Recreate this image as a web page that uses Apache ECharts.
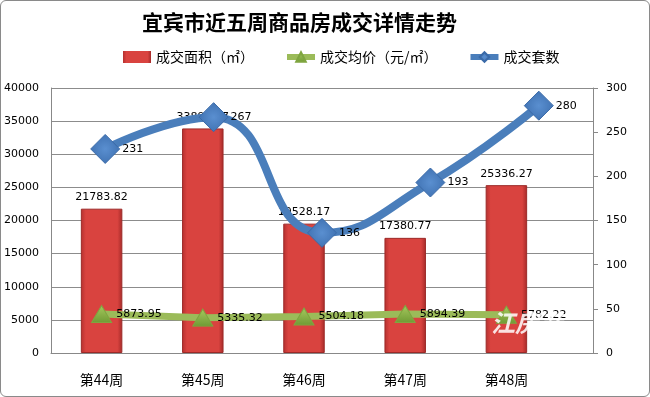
<!DOCTYPE html>
<html>
<head>
<meta charset="utf-8">
<script src="https://cdn.jsdelivr.net/npm/echarts@6/dist/echarts.min.js"></script>
<style>
  html, body { margin: 0; padding: 0; background: #fff; }
  #chart { width: 650px; height: 397px; box-sizing: border-box; border: 1px solid #8a8a8a; border-radius: 6px; }
</style>
</head>
<body>
<div id="chart"></div>
<script>
// 数据
const weeks = ['第44周', '第45周', '第46周', '第47周', '第48周'];
const areaData = [21783.82, 33897.07, 19528.17, 17380.77, 25336.27];
const priceData = [5873.95, 5335.32, 5504.18, 5894.39, 5782.22];
const countData = [231, 267, 136, 193, 280];

const numFont = 'DejaVu Sans';
const cjkFont = '"Noto Sans CJK SC", sans-serif';

const chart = echarts.init(document.getElementById('chart'));

const option = {
  animation: false,
  title: {
    text: '宜宾市近五周商品房成交详情走势',
    left: 136,
    top: 6,
    textStyle: { fontFamily: cjkFont, fontSize: 21, fontWeight: 'bold', color: '#000' },
  },
  legend: {
    left: 117,
    top: 44,
    itemGap: 30,
    itemWidth: 28,
    itemHeight: 12,
    textStyle: { fontFamily: cjkFont, fontSize: 14, color: '#000' },
    data: [
      { name: '成交面积（㎡）', icon: 'rect', itemStyle: { borderWidth: 0 } },
      { name: '成交均价（元/㎡）', lineStyle: { width: 6 } },
      { name: '成交套数', lineStyle: { width: 6 } },
    ],
  },
  // 主坐标区（柱形 + 均价），次坐标区（套数）宽度不同
  grid: [
    { left: 50, right: 92, top: 87, bottom: 43 },
    { left: 50, right: 56, top: 87, bottom: 43 },
  ],
  xAxis: [
    {
      type: 'category',
      gridIndex: 0,
      data: weeks,
      axisLine: { show: false },
      axisTick: { show: false },
      axisLabel: { fontFamily: cjkFont, fontSize: 14, color: '#000', margin: 20 },
    },
    {
      type: 'category',
      gridIndex: 1,
      data: weeks,
      axisLine: { lineStyle: { color: '#888' } },
      axisTick: { show: false },
      axisLabel: { show: false },
    },
  ],
  yAxis: [
    {
      type: 'value',
      gridIndex: 0,
      min: 0,
      max: 40000,
      interval: 5000,
      axisLine: { show: true, lineStyle: { color: '#888' } },
      axisTick: { show: false },
      splitLine: { show: false },
      axisLabel: { fontFamily: numFont, fontSize: 11, color: '#000', margin: 12, formatter: (v) => String(v) },
    },
    {
      type: 'value',
      gridIndex: 1,
      position: 'right',
      min: 0,
      max: 300,
      interval: 50,
      axisLine: { show: true, lineStyle: { color: '#888' } },
      axisTick: { show: true, length: 5, lineStyle: { color: '#888' } },
      splitLine: { show: false },
      axisLabel: { fontFamily: numFont, fontSize: 11, color: '#000', margin: 13 },
    },
    {
      type: 'value',
      gridIndex: 1,
      position: 'left',
      min: 0,
      max: 40000,
      interval: 5000,
      axisLine: { show: false },
      axisTick: { show: false },
      axisLabel: { show: false },
      splitLine: { lineStyle: { color: '#8c8c8c' } },
    },
  ],
  series: [
    {
      name: '成交面积（㎡）',
      type: 'bar',
      xAxisIndex: 0,
      yAxisIndex: 0,
      data: areaData,
      barWidth: '41%',
      z: 1,
      itemStyle: {
        color: new echarts.graphic.LinearGradient(0, 0, 1, 0, [
          { offset: 0, color: '#b5302f' },
          { offset: 0.12, color: '#d9433f' },
          { offset: 0.88, color: '#d9433f' },
          { offset: 1, color: '#a52a29' },
        ]),
        borderColor: '#9c2a28',
        borderWidth: 1,
      },
      label: {
        show: true,
        position: 'top',
        distance: 6,
        fontFamily: numFont,
        fontSize: 11,
        color: '#000',
      },
    },
    {
      name: '成交均价（元/㎡）',
      type: 'line',
      xAxisIndex: 0,
      yAxisIndex: 0,
      data: priceData,
      z: 3,
      symbol: 'triangle',
      symbolSize: [20, 17],
      lineStyle: { width: 7, color: '#9bbb59' },
      itemStyle: {
        color: new echarts.graphic.LinearGradient(0, 0, 0, 1, [
          { offset: 0, color: '#a6c95e' },
          { offset: 1, color: '#6f9a34' },
        ]),
        borderColor: '#7fa540',
        borderWidth: 1,
      },
      label: {
        show: true,
        position: 'right',
        distance: 4,
        fontFamily: numFont,
        fontSize: 11,
        color: '#000',
      },
    },
    {
      name: '成交套数',
      type: 'line',
      xAxisIndex: 1,
      yAxisIndex: 1,
      data: countData,
      smooth: 0.5,
      z: 4,
      symbol: 'diamond',
      symbolSize: 29,
      lineStyle: { width: 8, color: '#4a7ebb' },
      itemStyle: {
        color: new echarts.graphic.RadialGradient(0.5, 0.5, 0.6, [
          { offset: 0, color: '#5a8fd0' },
          { offset: 1, color: '#3c6eae' },
        ]),
        borderColor: '#3a6aa8',
        borderWidth: 1,
      },
      label: {
        show: true,
        position: 'right',
        distance: 2,
        fontFamily: numFont,
        fontSize: 11,
        color: '#000',
      },
    },
  ],
  // 水印
  graphic: [
    {
      type: 'text',
      left: 490,
      top: 310,
      z: 100,
      style: {
        text: '江房产',
        fontFamily: cjkFont,
        fontSize: 24,
        fontWeight: 'bold',
        fontStyle: 'italic',
        fill: 'rgba(255,255,255,0.85)',
      },
    },
  ],
};

chart.setOption(option);
</script>
</body>
</html>
